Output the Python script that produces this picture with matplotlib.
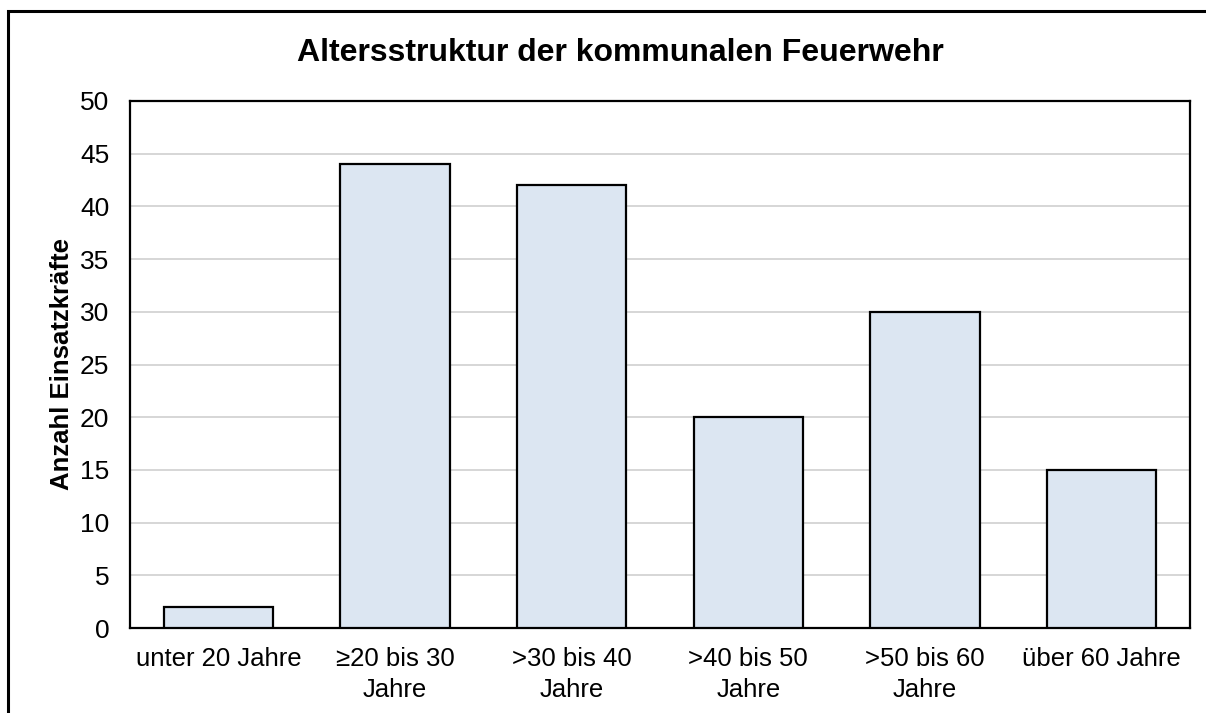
import matplotlib
matplotlib.use("Agg")
import matplotlib.pyplot as plt
from matplotlib.patches import Rectangle

plt.rcParams['font.family'] = ['Liberation Sans', 'DejaVu Sans']

# Daten
categories = ["unter 20 Jahre", "\u226520 bis 30\nJahre", ">30 bis 40\nJahre",
              ">40 bis 50\nJahre", ">50 bis 60\nJahre", "\u00fcber 60 Jahre"]
counts = [2, 44, 42, 20, 30, 15]
yticks = [0, 5, 10, 15, 20, 25, 30, 35, 40, 45, 50]

fig = plt.figure(figsize=(12.06, 7.13), dpi=100)
ax = fig.add_axes([130/1206, 1 - 628/713, 1060/1206, 527/713])

x = range(len(categories))
ax.bar(x, counts, width=0.62, color='#DCE6F2', edgecolor='black', linewidth=1.6, zorder=3)

ax.set_xlim(-0.5, len(categories) - 0.5)
ax.set_ylim(0, 50)
ax.set_yticks(yticks)
ax.set_xticks(list(x))
ax.set_xticklabels(categories, fontsize=18.5, linespacing=1.35)
ax.tick_params(axis='y', labelsize=19, length=0, pad=15)
ax.tick_params(axis='x', length=0, pad=14)
ax.yaxis.grid(True, color='#D0D0D0', linewidth=1.2, zorder=0)
for s in ax.spines.values():
    s.set_linewidth(1.6)
    s.set_color('black')

ax.set_ylabel("Anzahl Einsatzkr\u00e4fte", fontsize=18.5, fontweight='bold', labelpad=4)
fig.text(0.5 + 17/1206, 1 - 53/713, "Altersstruktur der kommunalen Feuerwehr",
         ha='center', va='center', fontsize=23, fontweight='bold')

# Rahmen um das Diagramm
fig.patches.append(Rectangle((8/1206, -0.1), 1.2, 1 - 11/713 + 0.1, transform=fig.transFigure,
                             fill=False, edgecolor='black', linewidth=2.2))

fig.savefig("out.png", dpi=100)
